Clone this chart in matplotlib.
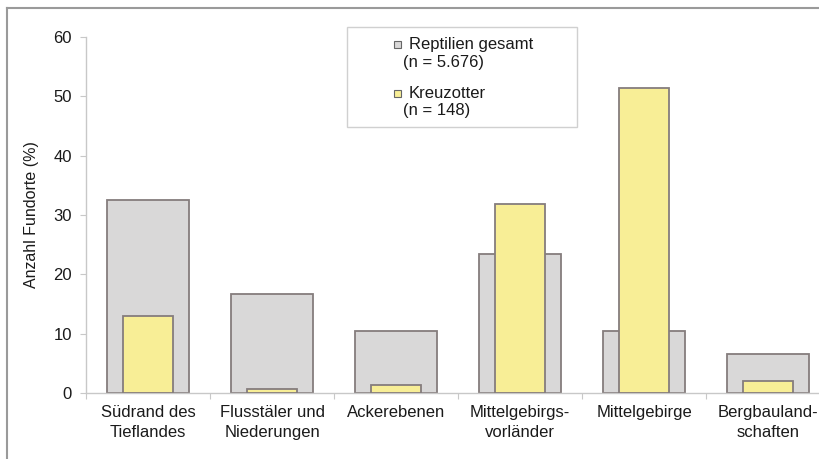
import matplotlib.pyplot as plt
from matplotlib.patches import Rectangle
from matplotlib.lines import Line2D
import numpy as np

plt.rcParams['font.family'] = ['Liberation Sans', 'DejaVu Sans']

# Landschaftsräume und Anteile der Fundorte (%)
kategorien = ["Südrand des\nTieflandes", "Flusstäler und\nNiederungen", "Ackerebenen",
              "Mittelgebirgs-\nvorländer", "Mittelgebirge", "Bergbauland-\nschaften"]
reptilien = [32.5, 16.7, 10.5, 23.5, 10.4, 6.5]
kreuzotter = [12.9, 0.6, 1.4, 31.8, 51.4, 2.0]
legende_namen = ["Reptilien gesamt", "Kreuzotter"]
legende_n = ["(n = 5.676)", "(n = 148)"]

grau = "#d9d8d8"
gelb = "#f8ee96"
rand = "#857d7d"
achse = "#c8c8c8"
textfarbe = "#1a1a1a"

W, H = 819, 459
fig = plt.figure(figsize=(W / 100, H / 100), dpi=100)
ax = fig.add_axes([86 / W, 1 - 393 / H, 744 / W, 356 / H])

x = np.arange(len(kategorien)) + 0.5
ax.bar(x, reptilien, width=0.66, color=grau, edgecolor=rand, linewidth=1.3, zorder=2)
ax.bar(x, kreuzotter, width=0.40, color=gelb, edgecolor=rand, linewidth=1.3, zorder=3)

ax.set_xlim(0, len(kategorien))
ax.set_ylim(0, 60)
ax.set_yticks(range(0, 61, 10))
ax.set_xticks(np.arange(len(kategorien) + 1))
ax.set_xticklabels([])
ax.set_xticks(x, minor=True)
ax.set_xticklabels(kategorien, minor=True, fontsize=12, color=textfarbe, linespacing=1.4)
ax.tick_params(axis="x", which="minor", length=0, pad=8.5)
ax.tick_params(axis="x", which="major", length=4.3, color=achse, direction="out")
ax.tick_params(axis="y", length=4.3, color=achse, labelsize=12, labelcolor=textfarbe, pad=5.8)

for s in ["top", "right"]:
    ax.spines[s].set_visible(False)
for s in ["left", "bottom"]:
    ax.spines[s].set_color(achse)
    ax.spines[s].set_linewidth(1.0)

ax.set_ylabel("Anzahl Fundorte (%)", fontsize=11.5, color=textfarbe, labelpad=10)

# Legende: Kasten, Symbole und zweizeilige Beschriftung
fig.patches.append(Rectangle((347 / W, 1 - 127 / H), 230 / W, 100 / H,
                             transform=fig.transFigure, facecolor="white",
                             edgecolor="#d0d0d0", linewidth=1.0, zorder=4))
for i, (farbe, name, n) in enumerate(zip((grau, gelb), legende_namen, legende_n)):
    y0 = 44 + 49 * i
    fig.patches.append(Rectangle((394 / W, 1 - (y0 + 3.5) / H), 7 / W, 7 / H,
                                 transform=fig.transFigure, facecolor=farbe,
                                 edgecolor="#666666", linewidth=0.8, zorder=5))
    fig.text(409 / W, 1 - y0 / H, name, fontsize=12, color=textfarbe,
             va="center", ha="left", zorder=5)
    fig.text(403 / W, 1 - (y0 + 18) / H, n, fontsize=12, color=textfarbe,
             va="center", ha="left", zorder=5)

# Bildrahmen links und oben
fig.add_artist(Line2D([7 / W, 7 / W], [0, 1 - 8 / H], transform=fig.transFigure,
                      color="#9a9a9a", linewidth=1.5))
fig.add_artist(Line2D([7 / W, 1], [1 - 8 / H, 1 - 8 / H], transform=fig.transFigure,
                      color="#9a9a9a", linewidth=1.5))

fig.savefig("out.png", dpi=100)
